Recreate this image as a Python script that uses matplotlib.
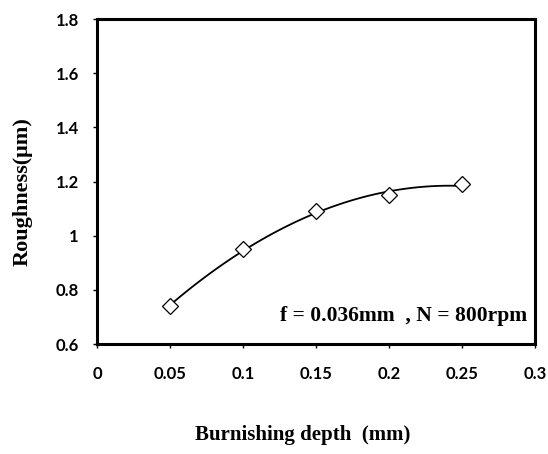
import numpy as np
import matplotlib.pyplot as plt
from matplotlib import rc

rc('font', family='Lato', weight='bold', size=10)

# data
depth = [0.05, 0.10, 0.15, 0.20, 0.25]
rough = [0.74, 0.95, 1.09, 1.15, 1.19]
xticks = [0, 0.05, 0.1, 0.15, 0.2, 0.25, 0.3]
xtick_labels = ['0', '0.05', '0.1', '0.15', '0.2', '0.25', '0.3']
yticks = [0.6, 0.8, 1.0, 1.2, 1.4, 1.6, 1.8]
ytick_labels = ['0.6', '0.8', '1', '1.2', '1.4', '1.6', '1.8']

fig = plt.figure(figsize=(5.48, 4.54), dpi=100)
ax = fig.add_axes([0.177, 0.242, 0.799, 0.716])

# polynomial trendline (order 2) through the points
coef = np.polyfit(depth, rough, 2)
xs = np.linspace(depth[0], depth[-1], 100)
ax.plot(xs, np.polyval(coef, xs), color='black', lw=1.3)
ax.plot(depth, rough, linestyle='none', marker='D', markersize=8,
        markerfacecolor='white', markeredgecolor='black', markeredgewidth=0.9)

ax.set_xlim(0, 0.3)
ax.set_ylim(0.6, 1.8)
ax.set_xticks(xticks, labels=xtick_labels)
ax.set_yticks(yticks, labels=ytick_labels)
ax.tick_params(direction='out', length=3, width=1, labelsize=12)
ax.tick_params(axis='x', pad=13)
ax.tick_params(axis='y', pad=10)
for s in ax.spines.values():
    s.set_linewidth(2.2)

serif = 'Liberation Serif'
ax.set_xlabel('Burnishing depth  (mm)', fontfamily=serif, fontweight='bold',
              fontsize=15)
ax.xaxis.set_label_coords(0.47, -0.25)
ax.set_ylabel('Roughness(\u03bcm)', fontfamily=serif, fontweight='bold',
              fontsize=16)
ax.yaxis.set_label_coords(-0.148, 0.47)
ax.text(0.982, 0.055, 'f = 0.036mm  , N = 800rpm', transform=ax.transAxes,
        ha='right', va='bottom', fontfamily=serif, fontweight='bold', fontsize=15.5)

plt.savefig('out.png', dpi=100)
